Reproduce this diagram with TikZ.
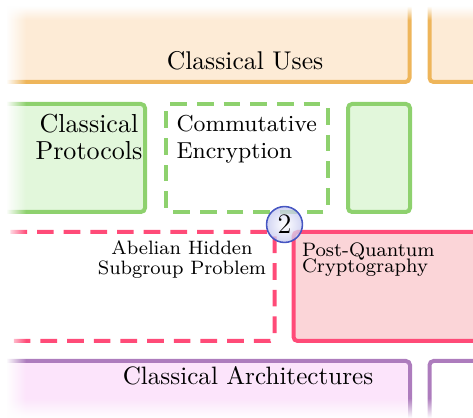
\documentclass[tikz,border=0pt]{standalone}
\usepackage{tkz-euclide}
\usetikzlibrary{fadings}

\definecolor{usesline}{HTML}{EEB55A}
\definecolor{usesfill}{HTML}{FDEBD6}
\definecolor{protline}{HTML}{8ED16E}
\definecolor{protfill}{HTML}{E2F7DB}
\definecolor{cryptline}{HTML}{FF4B78}
\definecolor{cryptfill}{HTML}{FBD5D8}
\definecolor{archline}{HTML}{AD7CBD}
\definecolor{archfill}{HTML}{FCE4FB}
\definecolor{stepline}{HTML}{4656C2}
\definecolor{steplav}{HTML}{C3C6EE}

\newcommand{\tightlines}{\lineskiplimit-10pt\relax}
\newcommand{\lblsize}[2]{\fontsize{#1}{#2}\selectfont\tightlines}

\tikzfading[name=fadeleft, left color=transparent!0, right color=transparent!100]
\tikzfading[name=fadetop, top color=transparent!0, bottom color=transparent!100]
\tikzfading[name=fadebottom, top color=transparent!100, bottom color=transparent!0]

\begin{document}
\begin{tikzpicture}[x=0.39pt,y=0.39pt,
  box/.style={line width=1.56pt,rounded corners=1.6pt},
  dashbox/.style={box,dash pattern=on 6.5pt off 3.9pt},
  lbl/.style={inner sep=0pt,font=\lblsize{10}{10.4}}]
\useasboundingbox (0,0) rectangle (473,418);
\clip (0,0) rectangle (473,418);

\tkzDefPoint(-20,336){uA}
\tkzDefPoint(409.5,440){uB}
\tkzDefPoint(429.5,336){uC}
\tkzDefPoint(500,440){uD}
\draw[box,usesline,fill=usesfill] (uA) rectangle (uB);
\draw[box,usesline,fill=usesfill] (uC) rectangle (uD);

  \tkzDefPoint(-20,206){pA}
  \tkzDefPoint(145,314){pB}
  \tkzDefPoint(165.5,206){pC}
  \tkzDefPoint(328,314){pD}
  \tkzDefPoint(348,206){pE}
  \tkzDefPoint(410,314){pF}
\draw[box,protline,fill=protfill] (pA) rectangle (pB);
\draw[dashbox,protline] (pC) rectangle (pD);
\draw[box,protline,fill=protfill] (pE) rectangle (pF);

\tkzDefPoint(-20,77){cA}
\tkzDefPoint(274.5,186){cB}
\tkzDefPoint(293.5,77){cC}
\tkzDefPoint(500,186){cD}
\draw[dashbox,cryptline] (cA) rectangle (cB);
\draw[box,cryptline,fill=cryptfill] (cC) rectangle (cD);

  \tkzDefPoint(-20,-22){aA}
  \tkzDefPoint(410,57){aB}
  \tkzDefPoint(429.5,-22){aC}
  \tkzDefPoint(500,57){aD}
\draw[box,archline,fill=archfill] (aA) rectangle (aB);
\draw[box,archline] (aC) rectangle (aD);

\node[lbl,anchor=base] (uses) at (245,348.5) {Classical Uses};
\node[lbl,font=\lblsize{10.15}{10.4},align=center,anchor=north] (protocols) at (89,304) {Classical\\Protocols};
\node[lbl,font=\lblsize{9}{10.5},align=left,anchor=north west] (commenc) at (176,303.5) {Commutative\\Encryption};
\node[lbl,font=\lblsize{7.55}{7.8},align=center,anchor=north] (ahsp) at (182,177.5) {Abelian Hidden\\Subgroup Problem};
\node[lbl,font=\lblsize{7.6}{6.5},align=left,anchor=north west] (pqc) at (301.5,176) {Post-Quantum\\Cryptography};
\node[lbl,font=\lblsize{9.8}{10},anchor=base] (arch) at (248,33) {Classical Architectures};

\node[circle,draw=stepline,line width=0.6pt,minimum size=14pt,inner sep=0pt,font=\fontsize{11}{12}\selectfont,
  inner color=white,outer color=steplav,fill opacity=0.75,text opacity=1] (two) at (284.5,193.5) {2};

% fade out the edges
\fill[white] (0,0) rectangle (6,418);
\fill[white,path fading=fadeleft] (6,0) rectangle (26,418);
\fill[white] (0,412) rectangle (473,418);
\fill[white,path fading=fadetop] (0,398) rectangle (473,412);
\fill[white,path fading=fadebottom] (0,0) rectangle (473,20);
\end{tikzpicture}
\end{document}
